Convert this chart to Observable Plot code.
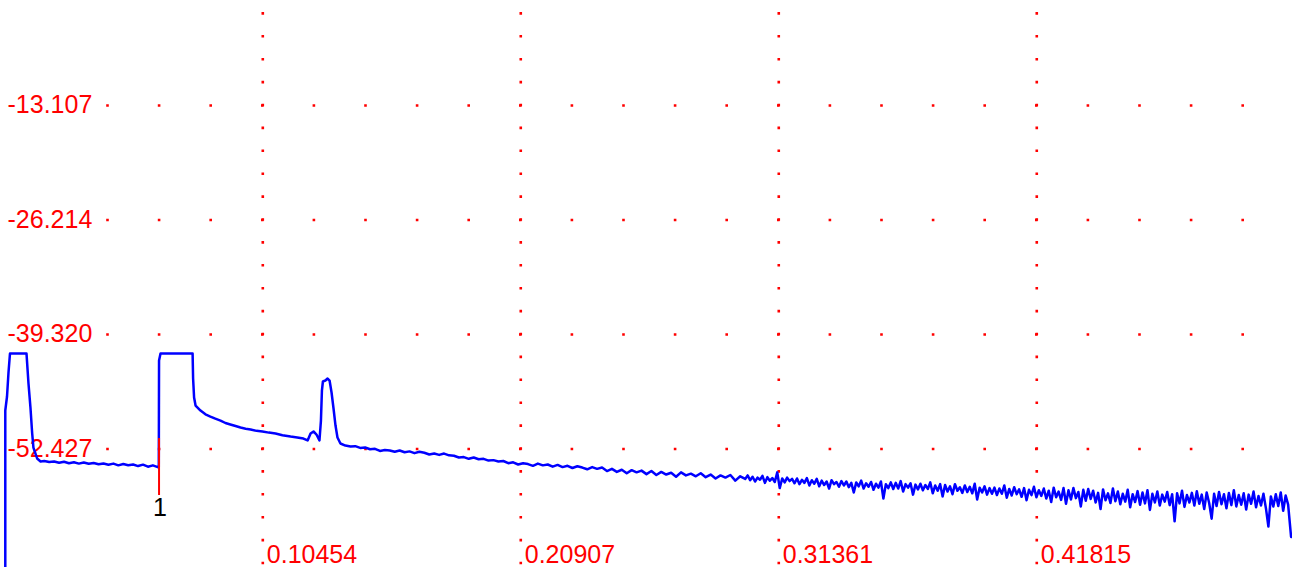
<!DOCTYPE html>
<html><head><meta charset="utf-8">
<script src="https://cdn.jsdelivr.net/npm/d3@7"></script>
<script src="https://cdn.jsdelivr.net/npm/@observablehq/plot@0.6"></script>
<style>html,body{margin:0;padding:0;background:#fff;overflow:hidden} svg{display:block}</style>
</head><body><div id="chart"></div>
<script>
const xTicks = [0.10454, 0.20907, 0.31361, 0.41815];
const xTickLabels = ["0.10454", "0.20907", "0.31361", "0.41815"];
const yTicks = [-13.107, -26.214, -39.320, -52.427];
const yTickLabels = ["-13.107", "-26.214", "-39.320", "-52.427"];

const distance = [
  0.0002, 0.0002, 0.0009, 0.0015, 0.0021, 0.0088, 0.0096, 0.0104, 0.0111, 0.0116, 0.0131, 0.0145,
  0.016, 0.018, 0.020, 0.022, 0.024, 0.026, 0.028, 0.030, 0.032, 0.034, 0.036, 0.038,
  0.040, 0.042, 0.044, 0.046, 0.048, 0.050, 0.052, 0.054, 0.056, 0.058, 0.060, 0.062,
  0.0624, 0.0625, 0.0631, 0.0761, 0.0763, 0.0767, 0.0773, 0.0793, 0.0813, 0.0833, 0.0853, 0.0874,
  0.0894, 0.0914, 0.0935, 0.0955, 0.0976, 0.0996, 0.1020, 0.1044, 0.1070, 0.1097, 0.1125, 0.1158,
  0.1185, 0.1210, 0.1227, 0.1239, 0.1251, 0.1263, 0.1275, 0.1281, 0.1285, 0.1289, 0.1299, 0.1308,
  0.1316, 0.1324, 0.1332, 0.1340, 0.1348, 0.1360, 0.1380, 0.1401,
  0.142, 0.144, 0.146, 0.148, 0.150, 0.152, 0.154, 0.156, 0.158, 0.160,
  0.162, 0.164, 0.166, 0.168, 0.170, 0.172, 0.174, 0.176, 0.178, 0.180,
  0.182, 0.184, 0.186, 0.188, 0.190, 0.192, 0.194, 0.196, 0.198, 0.200,
  0.202, 0.204, 0.206, 0.208, 0.210, 0.212, 0.214, 0.216, 0.218, 0.220,
  0.222, 0.224, 0.226, 0.228, 0.230, 0.232, 0.234, 0.236, 0.238, 0.240,
  0.242, 0.244, 0.246, 0.248, 0.250, 0.252, 0.254, 0.256, 0.258, 0.260,
  0.262, 0.264, 0.266, 0.268, 0.270, 0.272, 0.274, 0.276, 0.278, 0.280,
  0.282, 0.284, 0.286, 0.288, 0.290, 0.292, 0.294, 0.296, 0.298, 0.300,
  0.301, 0.302, 0.303, 0.304, 0.305, 0.306, 0.307, 0.308, 0.309, 0.310,
  0.311, 0.312, 0.313, 0.314, 0.315, 0.316, 0.317, 0.318, 0.319, 0.320,
  0.321, 0.322, 0.323, 0.324, 0.325, 0.326, 0.327, 0.328, 0.329, 0.330,
  0.331, 0.332, 0.333, 0.334, 0.335, 0.336, 0.337, 0.338, 0.339, 0.340,
  0.341, 0.342, 0.343, 0.344, 0.345, 0.346, 0.347, 0.348, 0.349, 0.350,
  0.351, 0.352, 0.353, 0.354, 0.355, 0.356, 0.357, 0.358, 0.359, 0.360,
  0.361, 0.362, 0.363, 0.364, 0.365, 0.366, 0.367, 0.368, 0.369, 0.370,
  0.371, 0.372, 0.373, 0.374, 0.375, 0.376, 0.377, 0.378, 0.379, 0.380,
  0.381, 0.382, 0.383, 0.384, 0.385, 0.386, 0.387, 0.388, 0.389, 0.390,
  0.391, 0.392, 0.393, 0.394, 0.395, 0.396, 0.397, 0.398, 0.399, 0.400,
  0.401, 0.402, 0.403, 0.404, 0.405, 0.406, 0.407, 0.408, 0.409, 0.410,
  0.411, 0.412, 0.413, 0.414, 0.415, 0.416, 0.417, 0.418, 0.419, 0.420,
  0.421, 0.422, 0.423, 0.424, 0.425, 0.426, 0.427, 0.428, 0.429, 0.430,
  0.431, 0.432, 0.433, 0.434, 0.435, 0.436, 0.437, 0.438, 0.439, 0.440,
  0.441, 0.442, 0.443, 0.444, 0.445, 0.446, 0.447, 0.448, 0.449, 0.450,
  0.451, 0.452, 0.453, 0.454, 0.455, 0.456, 0.457, 0.458, 0.459, 0.460,
  0.461, 0.462, 0.463, 0.464, 0.465, 0.466, 0.467, 0.468, 0.469, 0.470,
  0.471, 0.472, 0.473, 0.474, 0.475, 0.476, 0.477, 0.478, 0.479, 0.480,
  0.481, 0.482, 0.483, 0.484, 0.485, 0.486, 0.487, 0.488, 0.489, 0.490,
  0.491, 0.492, 0.493, 0.494, 0.495, 0.496, 0.497, 0.498, 0.499, 0.500,
  0.501, 0.502, 0.503, 0.504, 0.505, 0.506, 0.507, 0.508, 0.509, 0.510,
  0.511, 0.512, 0.513, 0.514, 0.515, 0.516, 0.517, 0.518, 0.519, 0.520,
  0.5212
];
const loss = [
  -66.5, -48.02, -46.42, -43.67, -41.50, -41.50, -44.93, -47.68, -50.65, -52.26, -53.51, -53.86,
  -53.80, -53.92, -53.85, -54.00, -53.88, -54.05, -53.95, -54.10, -53.97, -54.12, -54.02, -54.18,
  -54.08, -54.22, -54.10, -54.30, -54.15, -54.28, -54.20, -54.38, -54.22, -54.45, -54.30, -54.50,
  -54.55, -42.30, -41.50, -41.50, -44.36, -46.53, -47.45, -48.02, -48.45, -48.71, -48.95, -49.17,
  -49.45, -49.62, -49.80, -49.97, -50.10, -50.20, -50.35, -50.42, -50.55, -50.65, -50.85, -51.00,
  -51.10, -51.23, -51.45, -50.65, -50.42, -50.77, -51.45, -49.17, -45.73, -44.70, -44.59, -44.36,
  -44.59, -45.96, -47.79, -49.74, -51.11, -51.80, -52.03, -52.14,
  -52.10, -52.30, -52.25, -52.45, -52.40, -52.65, -52.55, -52.60, -52.75, -52.60,
  -52.80, -52.70, -52.90, -52.75, -52.85, -53.05, -52.95, -53.10, -52.95, -53.15,
  -53.20, -53.40, -53.35, -53.55, -53.40, -53.60, -53.55, -53.75, -53.70, -53.85,
  -53.80, -54.05, -53.95, -54.20, -54.05, -54.15, -54.35, -54.10, -54.30, -54.20,
  -54.45, -54.25, -54.50, -54.35, -54.60, -54.40, -54.55, -54.75, -54.50, -54.70,
  -54.55, -54.95, -54.70, -55.05, -54.80, -55.20, -54.85, -55.10, -54.90, -55.30,
  -54.95, -55.40, -55.05, -55.35, -55.15, -55.60, -55.10, -55.45, -55.25, -55.55,
  -55.20, -55.65, -55.35, -55.80, -55.45, -55.70, -55.40, -56.05, -55.55, -55.85,
  -55.45, -56.00, -55.60, -56.15, -55.70, -55.95, -55.50, -56.30, -55.65, -56.05,
  -55.75, -56.20, -55.10, -56.90, -55.80, -56.25, -55.70, -56.10, -55.85, -56.35,
  -55.80, -56.45, -55.95, -56.30, -55.75, -56.60, -56.00, -56.40, -55.85, -56.70,
  -56.05, -56.55, -56.15, -56.95, -56.00, -56.45, -56.20, -56.75, -56.10, -56.60,
  -56.15, -56.80, -56.30, -57.40, -56.25, -56.70, -56.05, -56.95, -56.35, -56.75,
  -56.20, -57.10, -56.40, -56.85, -56.15, -58.10, -56.45, -56.90, -56.25, -57.00,
  -56.30, -56.95, -56.10, -57.30, -56.45, -56.85, -56.35, -57.65, -56.50, -57.05,
  -56.40, -57.15, -56.55, -57.00, -56.25, -57.50, -56.60, -57.20, -56.45, -57.85,
  -56.55, -57.30, -56.70, -57.60, -56.45, -57.20, -56.80, -57.45, -56.60, -57.35,
  -56.75, -57.50, -56.40, -58.20, -56.85, -57.40, -56.70, -57.65, -56.90, -57.55,
  -56.85, -57.70, -56.95, -57.55, -56.60, -58.00, -57.00, -57.75, -56.80, -57.60,
  -57.05, -57.90, -56.90, -58.30, -57.10, -57.70, -56.75, -57.95, -57.15, -57.80,
  -56.95, -58.10, -57.20, -58.50, -56.85, -57.95, -57.30, -58.25, -56.90, -58.70,
  -57.15, -58.20, -56.90, -58.05, -57.35, -59.00, -57.10, -58.35, -57.00, -58.15,
  -57.20, -58.55, -57.45, -59.30, -57.05, -58.30, -57.50, -58.60, -56.95, -58.40,
  -57.30, -58.75, -57.55, -58.45, -57.10, -59.10, -57.60, -58.50, -57.25, -58.80,
  -57.40, -58.65, -57.15, -59.40, -57.55, -58.55, -57.30, -58.90, -57.65, -58.45,
  -57.35, -58.85, -57.60, -60.70, -57.50, -58.65, -57.20, -59.05, -57.70, -58.55,
  -57.45, -58.90, -57.25, -58.70, -57.65, -59.30, -57.40, -58.60, -60.40, -57.55,
  -58.95, -57.35, -58.75, -57.60, -59.20, -57.45, -58.85, -57.15, -59.00, -57.70,
  -58.80, -57.50, -59.35, -57.65, -58.70, -57.30, -59.10, -57.80, -58.90, -57.55,
  -59.20, -61.30, -57.85, -59.00, -57.60, -58.95, -57.40, -59.50, -57.75, -58.80,
  -62.5
];

const eventDistance = [0.0625];
const eventTop = [-51.23];
const eventBottom = [-57.75];
const eventLabels = ["1"];

const W = 1292, H = 567;
const xDomain = [-0.00174, 0.52177];
const yDomain = [-65.99, -1.09];
const xMinor = xTicks[0] / 5;
const yMinor = (yTicks[0] - yTicks[1]) / 5;
const hPeriod = xMinor * W / (xDomain[1] - xDomain[0]);
const vPeriod = yMinor * H / (yDomain[1] - yDomain[0]);

const trace = distance.map((d, i) => ({d, v: loss[i]}));

const chart = Plot.plot({
  width: W, height: H, margin: 0,
  x: {domain: xDomain, axis: null},
  y: {domain: yDomain, axis: null},
  style: {fontFamily: "'Liberation Sans', Arial, sans-serif", background: "#fff"},
  marks: [
    Plot.ruleY(yTicks, {y: d => d, x1: () => xMinor * 2, x2: () => xDomain[1], stroke: "#ff0000", strokeWidth: 2.6, strokeDasharray: `2.6 ${hPeriod - 2.6}`, dx: -1.3}),
    Plot.ruleX(xTicks, {x: d => d, y1: () => yTicks[0] + 4 * yMinor, y2: () => yDomain[0], stroke: "#ff0000", strokeWidth: 2.6, strokeDasharray: `2.6 ${vPeriod - 2.6}`, dy: -1.3}),
    Plot.text(yTicks, {y: d => d, text: (d, i) => yTickLabels[i], frameAnchor: "left", textAnchor: "start", lineAnchor: "middle", dx: 7, fill: "#ff0000", fontSize: 25}),
    Plot.text(xTicks, {x: d => d, text: (d, i) => xTickLabels[i], frameAnchor: "bottom", textAnchor: "start", lineAnchor: "bottom", dx: 4, dy: -5, fill: "#ff0000", fontSize: 25}),
    Plot.line(trace, {x: "d", y: "v", stroke: "#0000ff", strokeWidth: 2.5}),
    Plot.ruleX(eventDistance, {x: d => d, y1: (d, i) => eventTop[i], y2: (d, i) => eventBottom[i], stroke: "#ff0000", strokeWidth: 2}),
    Plot.text(eventDistance, {x: d => d, y: (d, i) => eventBottom[i], text: (d, i) => eventLabels[i], lineAnchor: "top", dy: 3, dx: 1, fill: "#000", fontSize: 25})
  ]
});
document.getElementById("chart").appendChild(chart);
</script>
</body></html>
